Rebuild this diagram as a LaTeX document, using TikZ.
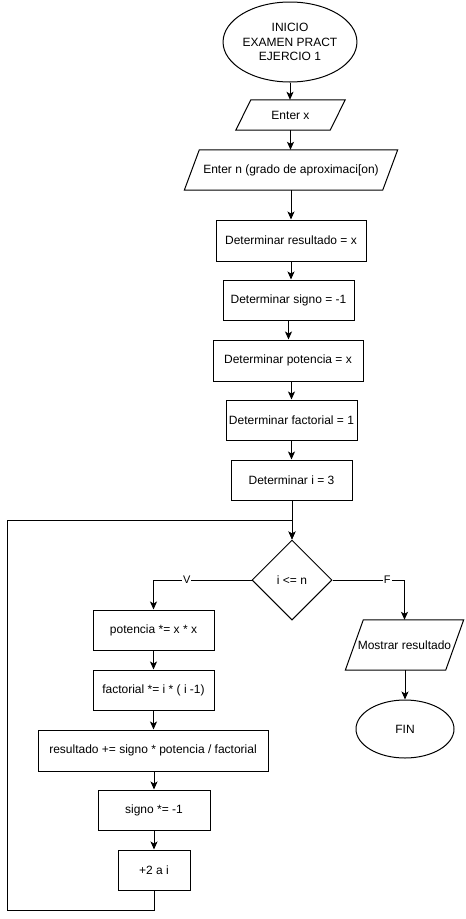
\documentclass[tikz,border=0pt]{standalone}
\usepackage{fontspec}
\setmainfont{Liberation Sans}
\usetikzlibrary{shapes.geometric,arrows.meta}

\begin{document}
\begin{tikzpicture}[x=1pt,y=-1pt,
  every node/.style={font=\fontsize{12}{14.5}\selectfont, inner sep=0pt},
  line/.style={draw=black, line width=1pt},
  arr/.style={line, -{Stealth[length=8pt,width=7pt,inset=2pt]}},
  proc/.style={rectangle, draw=black, line width=1pt},
  term/.style={ellipse, draw=black, line width=1pt},
  cond/.style={diamond, draw=black, line width=1pt, aspect=1},
  iobox/.style={rectangle, draw=none},
  tag/.style={fill=white, inner sep=1pt, font=\fontsize{11}{13}\selectfont}
]
\useasboundingbox[fill=white] (0,0) rectangle (466,919);

% parallelogram outline around a named node, slanted by #2
\newcommand{\slantbox}[2]{%
  \draw[line, line join=miter] ([xshift=#2]#1.north west) -- (#1.north east)
    -- ([xshift=-#2]#1.south east) -- (#1.south west) -- cycle;}

% main column
\node[term, minimum width=122, minimum height=80, align=center] (start) at (290,42)
  {INICIO\\EXAMEN PRACT\\EJERCIO 1};
\node[iobox, minimum width=109, minimum height=30] (inx) at (290.5,115) {Enter x};
\slantbox{inx}{15}
\node[iobox, minimum width=213, minimum height=40] (inn) at (291,170) {Enter n (grado de aproximaci[on)};
\slantbox{inn}{15}
\node[proc, minimum width=150, minimum height=41] (res) at (291,240.5) {Determinar resultado = x};
\node[proc, minimum width=131, minimum height=40] (sig) at (288.5,300) {Determinar signo = -1};
\node[proc, minimum width=150, minimum height=41] (pot) at (288,360.5) {Determinar potencia = x};
\node[proc, minimum width=131, minimum height=40] (fac) at (291.5,420) {Determinar factorial = 1};
\node[proc, minimum width=121, minimum height=40] (ini) at (291.5,480) {Determinar i = 3};
\node[cond, minimum width=80, minimum height=80] (dec) at (292,580) {i <= n};

% loop body
\node[proc, minimum width=121, minimum height=40] (pxx) at (153.5,630) {potencia *= x * x};
\node[proc, minimum width=121, minimum height=40] (fxx) at (153.5,690) {factorial *= i * ( i -1)};
\node[proc, minimum width=230, minimum height=41] (rxx) at (153,750.5) {resultado += signo * potencia / factorial};
\node[proc, minimum width=112, minimum height=40] (sxx) at (154,810) {signo *= -1};
\node[proc, minimum width=72, minimum height=40] (inc) at (154,870) {+2 a i};

% exit branch
\node[iobox, minimum width=118, minimum height=50] (mos) at (404.5,645) {Mostrar resultado};
\slantbox{mos}{18}
\node[term, minimum width=98, minimum height=58] (fin) at (405,729) {FIN};

% loop-back corners
\coordinate (lb) at (7,910);
\coordinate (lt) at (7,520);

% connectors
\draw[arr] (start.south) -- (start.south |- inx.north);
\draw[arr] (inx.south) -- (inx.south |- inn.north);
\draw[arr] (inn.south) -- (inn.south |- res.north);
\draw[arr] (res.south) -- (res.south |- sig.north);
\draw[arr] (sig.south) -- (sig.south |- pot.north);
\draw[arr] (pot.south -| fac.north) -- (fac.north);
\draw[arr] (fac.south) -- (fac.south |- ini.north);
\draw[arr] (ini.south -| dec.north) -- (dec.north);

\draw[arr] (dec.west) -| node[tag, pos=0.33] {V} (pxx.north);
\draw[arr] (dec.east) -| node[tag, pos=0.38] {F} (mos.north);

\draw[arr] (pxx.south) -- (fxx.north);
\draw[arr] (fxx.south) -- (fxx.south |- rxx.north);
\draw[arr] (rxx.south -| sxx.north) -- (sxx.north);
\draw[arr] (sxx.south) -- (inc.north);
\draw[arr] (mos.south -| fin.north) -- (fin.north);

\draw[arr] (inc.south) |- (lb) -- (lt) -| (dec.north);
\end{tikzpicture}
\end{document}
